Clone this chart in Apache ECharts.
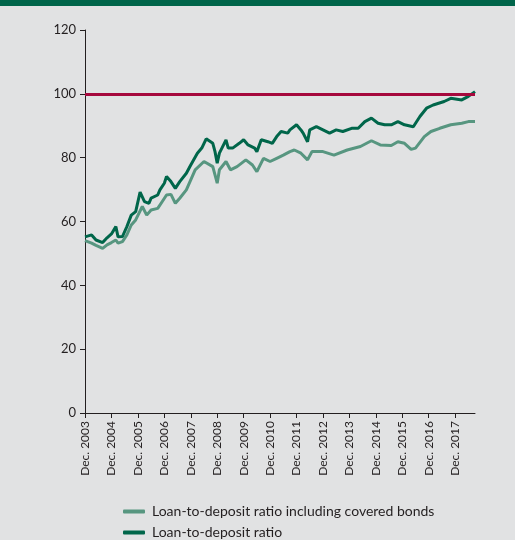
<!DOCTYPE html>
<html>
<head>
<meta charset="utf-8">
<script src="https://cdn.jsdelivr.net/npm/echarts@6/dist/echarts.min.js"></script>
<style>
  html, body { margin: 0; padding: 0; background: #e1e2e3; }
  #chart { width: 515px; height: 540px; }
</style>
</head>
<body>
<div id="chart"></div>
<script>
// months counted from Dec. 2003 (index 0) to Sep. 2018 (index 177)
const firstYear = 2003
const monthCount = 178

// Loan-to-deposit ratio including covered bonds, [month index, per cent]
const ratioInclCoveredBonds = [
    [0, 54], [3, 53.2], [5, 52.5], [8, 51.6], [10, 52.7], [12, 53.4], [14, 54.2], [15, 53.2],
    [17, 53.7], [19, 55.8], [21, 58.9], [23, 60.5], [26, 64.7], [28, 62], [30, 63.6], [33, 64.1],
    [35, 66.2], [37, 68.3], [39, 68.5], [41, 65.7], [43, 67.3], [46, 69.9], [50, 76.2], [54, 78.8],
    [58, 77.2], [60, 72], [61, 76.2], [64, 78.8], [66, 76.2], [69, 77.2], [73, 79.3], [76, 77.7],
    [78, 75.6], [81, 79.8], [84, 78.8], [87, 79.8], [90, 80.8], [93, 81.9], [95, 82.4], [98, 81.4],
    [101, 79.3], [103, 81.9], [108, 81.9], [113, 80.8], [119, 82.4], [125, 83.5], [130, 85.3],
    [134, 84], [139, 83.8], [142, 85], [145, 84.5], [148, 82.6], [150, 83], [154, 86.6], [157, 88.2],
    [161, 89.2], [166, 90.3], [171, 90.8], [174, 91.3], [177, 91.3]
]

// Loan-to-deposit ratio, [month index, per cent]
const ratio = [
    [0, 55.2], [3, 55.8], [5, 54.2], [8, 53.4], [10, 54.9], [12, 56.1], [14, 58.4], [15, 55.2],
    [17, 55.3], [19, 58.4], [21, 62], [23, 63.1], [25, 69.2], [27, 66.2], [29, 65.7], [30, 67.3],
    [33, 68.3], [34, 69.9], [36, 72], [37, 74.1], [39, 72.5], [41, 70.4], [43, 72.5], [46, 75.1],
    [48, 77.7], [51, 81.4], [53, 83], [55, 85.9], [58, 84.5], [59, 81.9], [60, 78.3], [61, 81.4],
    [64, 85.6], [65, 83], [67, 83], [70, 84.5], [72, 85.6], [74, 84], [77, 83], [78, 81.9],
    [80, 85.6], [83, 85], [85, 84.5], [87, 86.6], [89, 88.2], [92, 87.7], [93, 88.7], [96, 90.3],
    [98, 88.7], [99, 87.7], [101, 85], [102, 88.7], [105, 89.7], [108, 88.7], [111, 87.7],
    [114, 88.7], [117, 88.2], [121, 89.2], [124, 89.2], [127, 91.3], [130, 92.4], [133, 90.8],
    [136, 90.3], [139, 90.3], [142, 91.3], [145, 90.3], [149, 89.7], [152, 92.9], [155, 95.5],
    [158, 96.5], [163, 97.6], [166, 98.6], [171, 98.1], [174, 99.2], [177, 100.7]
]

const referenceLevel = 100
const seriesNames = ['Loan-to-deposit ratio including covered bonds', 'Loan-to-deposit ratio']

const months = []
for (let i = 0; i < monthCount; i++) {
    months.push(i % 12 === 0 ? 'Dec. ' + (firstYear + i / 12) : '')
}

const font = 'Lato'
const textColor = '#231f20'
const lightGreen = '#579680'
const darkGreen = '#00664a'

const chart = echarts.init(document.getElementById('chart'), null, {renderer: 'canvas'})

chart.setOption({
    backgroundColor: '#e1e2e3',
    animation: false,
    textStyle: {fontFamily: font},
    graphic: [
        {
            type: 'rect',
            shape: {x: 0, y: 0, width: 515, height: 6},
            style: {fill: '#00654a'},
            z: 10
        },
        {
            type: 'text',
            left: 18,
            top: -18,
            style: {
                text: 'Key ratios for the banking system (percentage)',
                fill: '#ffffff',
                font: 'bold 18px ' + font
            },
            z: 11
        },
        {
            // keep the cut title inside the band
            type: 'rect',
            shape: {x: 0, y: 6, width: 515, height: 6},
            style: {fill: '#e1e2e3'},
            z: 12
        }
    ],
    grid: {left: 85, right: 40, top: 30, bottom: 127},
    legend: {
        orient: 'vertical',
        left: 123,
        bottom: 0,
        padding: 0,
        itemGap: 6,
        itemWidth: 22,
        itemHeight: 4,
        icon: 'roundRect',
        textStyle: {fontFamily: font, fontSize: 14, lineHeight: 15, color: textColor, padding: [0, 0, 0, 2]},
        data: seriesNames
    },
    xAxis: {
        type: 'category',
        data: months,
        boundaryGap: false,
        axisLine: {lineStyle: {color: '#231f20', width: 1}},
        axisTick: {
            length: 5,
            interval: (i) => i % 12 === 0,
            lineStyle: {color: '#231f20'}
        },
        axisLabel: {
            interval: (i) => i % 12 === 0,
            rotate: 90,
            margin: 8,
            fontSize: 12,
            color: textColor,
            fontFamily: font
        },
        splitLine: {show: false}
    },
    yAxis: {
        type: 'value',
        min: 0,
        max: 120,
        interval: 20,
        axisLine: {show: true, lineStyle: {color: '#231f20', width: 1}},
        axisTick: {show: true, length: 5, lineStyle: {color: '#231f20'}},
        axisLabel: {fontSize: 13, margin: 9, color: textColor, fontFamily: font},
        splitLine: {show: false}
    },
    series: [
        {
            name: seriesNames[0],
            type: 'line',
            data: ratioInclCoveredBonds,
            showSymbol: false,
            lineStyle: {color: lightGreen, width: 3},
            itemStyle: {color: lightGreen}
        },
        {
            name: seriesNames[1],
            type: 'line',
            data: ratio,
            showSymbol: false,
            lineStyle: {color: darkGreen, width: 3},
            itemStyle: {color: darkGreen},
            markLine: {
                silent: true,
                symbol: 'none',
                label: {show: false},
                lineStyle: {color: '#a6093d', width: 3, type: 'solid'},
                data: [{yAxis: referenceLevel}]
            },
            z: 3
        }
    ]
})
</script>
</body>
</html>
